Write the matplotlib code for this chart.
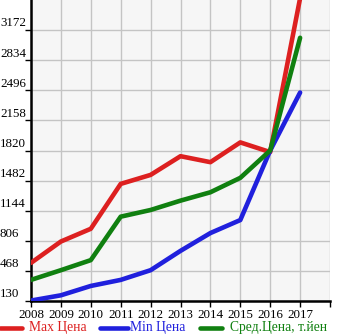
import matplotlib
matplotlib.use("Agg")
import matplotlib.pyplot as plt
from matplotlib.lines import Line2D
from matplotlib.transforms import blended_transform_factory, offset_copy

# Series
years = [2008, 2009, 2010, 2011, 2012, 2013, 2014, 2015, 2016, 2017]
max_price = [558, 798, 941, 1445, 1546, 1756, 1689, 1911, 1802, 3530]
min_price = [135, 194, 299, 367, 476, 693, 893, 1039, 1820, 2471]
avg_price = [367, 476, 589, 1077, 1152, 1257, 1351, 1513, 1820, 3086]

y_ticks = [130, 468, 806, 1144, 1482, 1820, 2158, 2496, 2834, 3172]
legend_labels = ["Max Цена", "Min Цена", "Сред.Цена, т.йен"]

RED = "#DD2020"
BLUE = "#2020DD"
GREEN = "#108010"
FONT = "Liberation Serif"
FS = 9.4

W, H = 345, 335
fig = plt.figure(figsize=(W / 100, H / 100), dpi=100)
fig.patch.set_facecolor("white")
ax = fig.add_axes([31 / W, 34 / H, 299 / W, 301 / H])
ax.set_facecolor("#F6F6F6")

ax.set_xlim(2008, 2018)
ax.set_ylim(130, 3510)

for vals, col in [(max_price, RED), (min_price, BLUE), (avg_price, GREEN)]:
    ax.plot(years, vals, color=col, lw=3.3, solid_capstyle="round", zorder=3)

ax.set_xticks(range(2008, 2019))
ax.set_xticklabels([str(y) for y in years] + [""], fontsize=FS, family=FONT)
ax.set_yticks(y_ticks)
ax.set_yticklabels([])
ax.tick_params(axis="both", length=4, width=1, color="black", pad=1.5)
ax.grid(True, color="#C4C4C4", lw=1, zorder=0)

for side in ["top", "right"]:
    ax.spines[side].set_visible(False)
ax.spines["left"].set_linewidth(1.8)
ax.spines["bottom"].set_linewidth(1.8)

# y labels sit flush with the left edge, just above their grid line
trans = offset_copy(blended_transform_factory(fig.transFigure, ax.transData),
                    fig=fig, x=0, y=0.5, units="points")
for v in y_ticks:
    ax.text(0.0, v, str(v), transform=trans, ha="left", va="bottom",
            fontsize=FS, family=FONT, clip_on=False)

# Legend row
ly = 1 - 328 / H
legend_items = [(0, 22, 29, RED), (100, 128, 130, BLUE), (200, 222, 230, GREEN)]
for (x0, x1, tx, col), lab in zip(legend_items, legend_labels):
    fig.add_artist(Line2D([x0 / W, x1 / W], [ly, ly], color=col, lw=3.3,
                          solid_capstyle="round", transform=fig.transFigure))
    fig.text(tx / W, ly, lab, color=col, fontsize=FS + 0.4, family=FONT,
             ha="left", va="center")

fig.savefig("out.png", dpi=100, facecolor="white")
